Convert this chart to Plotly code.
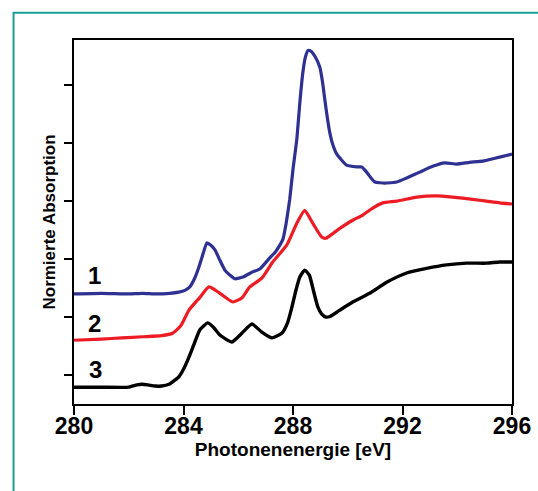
import plotly.graph_objects as go

# Photon energy (eV) and normalised absorption (tick units)
x1 = [280.0, 281.0, 282.0, 282.5, 283.0, 283.5, 283.83, 284.05, 284.23, 284.4, 284.56, 284.72,
      284.85, 285.0, 285.15, 285.33, 285.51, 285.7, 285.88, 286.17, 286.53, 286.79, 287.15,
      287.35, 287.52, 287.63, 287.75, 287.88, 288.0, 288.14, 288.25, 288.36, 288.45, 288.55,
      288.65, 288.8, 288.98, 289.08, 289.16, 289.25, 289.34, 289.45, 289.6, 289.96, 290.33,
      290.51, 290.69, 290.85, 290.99, 291.35, 291.79, 292.15, 292.63, 293.1, 293.54, 293.98,
      294.45, 294.93, 295.55, 296.0]
y1 = [1.40, 1.41, 1.40, 1.41, 1.40, 1.41, 1.43, 1.46, 1.52, 1.66, 1.86, 2.10,
      2.28, 2.24, 2.16, 1.98, 1.81, 1.72, 1.66, 1.69, 1.78, 1.83, 2.02,
      2.12, 2.24, 2.34, 2.62, 3.03, 3.55, 4.07, 4.70, 5.22, 5.48, 5.60,
      5.59, 5.50, 5.31, 5.05, 4.76, 4.45, 4.19, 3.98, 3.81, 3.62, 3.59,
      3.59, 3.50, 3.40, 3.33, 3.31, 3.33, 3.40, 3.50, 3.60, 3.66, 3.64,
      3.67, 3.69, 3.76, 3.81]

x2 = [280.0, 281.0, 281.75, 282.5, 283.2, 283.6, 283.9, 284.2, 284.6, 284.93, 285.33, 285.8,
      286.13, 286.42, 286.86, 287.26, 287.77, 288.14, 288.43, 288.72, 289.05, 289.2,
      289.71, 290.18, 290.55, 290.91, 291.28, 291.79, 292.52, 293.25, 293.83, 294.56,
      295.07, 295.55, 296.0]
y2 = [0.60, 0.62, 0.64, 0.66, 0.68, 0.72, 0.85, 1.12, 1.34, 1.52, 1.41, 1.26,
      1.33, 1.52, 1.67, 1.95, 2.24, 2.62, 2.84, 2.62, 2.38, 2.36,
      2.53, 2.67, 2.76, 2.88, 2.97, 3.00, 3.07, 3.09, 3.07, 3.03,
      3.00, 2.97, 2.95]

x3 = [280.0, 281.0, 282.0, 282.3, 282.48, 282.7, 282.96, 283.2, 283.47, 283.65, 283.83, 284.0,
      284.2, 284.4, 284.6, 284.89, 285.1, 285.33, 285.77, 286.13, 286.5, 286.86, 287.23, 287.59,
      287.8, 287.96, 288.1, 288.25, 288.43, 288.6, 288.75, 288.91, 289.05, 289.2, 289.35,
      289.71, 290.18, 290.8, 291.42, 292.15, 292.88, 293.61, 294.34, 295.07, 295.55, 296.0]
y3 = [-0.21, -0.21, -0.21, -0.17, -0.16, -0.17, -0.19, -0.19, -0.16, -0.10, -0.03, 0.10,
      0.31, 0.55, 0.78, 0.90, 0.82, 0.69, 0.57, 0.72, 0.88, 0.74, 0.64, 0.72,
      0.90, 1.17, 1.45, 1.69, 1.81, 1.72, 1.45, 1.17, 1.05, 1.00, 1.01,
      1.12, 1.26, 1.41, 1.60, 1.76, 1.84, 1.90, 1.93, 1.93, 1.95, 1.95]

curve_labels = ["1", "2", "3"]
label_x = [280.75, 280.75, 280.8]
label_y = [1.72, 0.89, 0.10]

x_ticks = [280, 284, 288, 292, 296]
y_ticks = [0, 1, 2, 3, 4, 5]

FONT = "Liberation Sans, Arial, sans-serif"

def f(size):
    return dict(family=FONT, size=size, color="black", weight="bold")

fig = go.Figure()
fig.add_trace(go.Scatter(x=x1, y=y1, mode="lines",
                         line=dict(color="#2e3192", width=3.2, shape="spline", smoothing=0.4),
                         showlegend=False))
fig.add_trace(go.Scatter(x=x2, y=y2, mode="lines",
                         line=dict(color="#ed1c24", width=3.2, shape="spline", smoothing=0.5),
                         showlegend=False))
fig.add_trace(go.Scatter(x=x3, y=y3, mode="lines",
                         line=dict(color="#000000", width=3.4, shape="spline", smoothing=0.5),
                         showlegend=False))

for t, lx, ly in zip(curve_labels, label_x, label_y):
    fig.add_annotation(x=lx, y=ly, text=t, showarrow=False, font=f(24))

fig.add_shape(type="rect", xref="paper", yref="paper",
              x0=-0.138, x1=1.2, y0=-0.4, y1=1.075,
              line=dict(color="#1a9e96", width=2), layer="below")

fig.update_xaxes(range=[280, 296], tickvals=x_ticks, ticks="outside", ticklen=9,
                 tickwidth=2, tickcolor="black", showline=True, linecolor="black",
                 linewidth=2, mirror=True, showgrid=False, zeroline=False, automargin=False,
                 tickfont=f(23), ticklabelstandoff=-9,
                 title=dict(text="Photonenenergie [eV]", standoff=0, font=f(19)))
fig.update_yaxes(range=[-0.5, 5.78], tickvals=y_ticks, ticks="outside", ticklen=8,
                 tickwidth=2, tickcolor="black", showticklabels=False, showline=True,
                 linecolor="black", linewidth=2, mirror=True, showgrid=False, zeroline=False,
                 automargin=False,
                 title=dict(text="Normierte Absorption", standoff=4, font=f(17)))

fig.update_layout(width=538, height=491, margin=dict(l=74, r=26, t=40, b=87),
                  paper_bgcolor="white", plot_bgcolor="white")

fig.write_html("out.html")
